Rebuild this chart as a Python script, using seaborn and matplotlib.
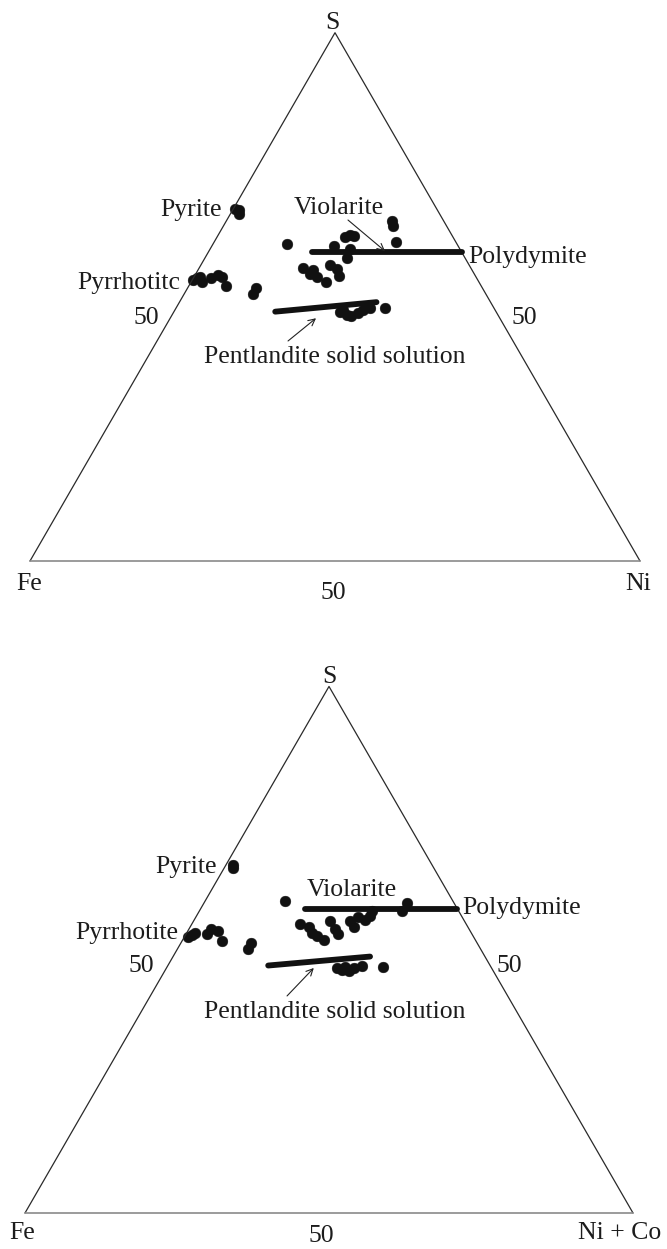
import numpy as np
import pandas as pd
import seaborn as sns
import matplotlib.pyplot as plt

sns.set_style("white")
plt.rcParams['font.family'] = ['Liberation Serif', 'DejaVu Serif']

# compositions in atomic %, stored as (S, Ni); Fe is the rest
# upper diagram: S - Fe - Ni
top_S = [66.6, 65.7, 66.5,
         53.5, 53.8, 53.2, 52.9, 53.5, 54.2, 53.7, 52.1, 51.6, 50.6,
         60.0, 59.7, 61.4, 61.7, 61.5, 59.0, 57.3, 64.4, 63.4, 60.3,
         55.4, 55.1, 54.4, 53.8, 52.9, 56.1, 55.2, 54.0,
         47.2, 46.6, 46.4, 46.9, 47.5, 47.9, 47.9, 47.5]
top_Ni = [0.3, 1.4, 1.0,
          0.6, 1.0, 0.2, 1.7, 3.0, 3.8, 4.6, 6.1, 11.3, 11.2,
          12.2, 20.0, 20.9, 21.6, 22.3, 23.0, 23.3, 27.2, 27.8, 29.8,
          17.0, 18.9, 18.7, 20.1, 22.0, 21.2, 22.7, 23.6,
          27.2, 28.6, 29.5, 30.4, 30.9, 31.8, 34.3, 27.6]

# lower diagram: S - Fe - (Ni + Co)
bot_S = [66.0, 65.5,
         52.8, 53.2, 52.5, 52.9, 53.9, 53.5, 51.7, 51.3, 50.1,
         59.2, 54.8, 54.3, 53.2, 52.7, 51.9, 55.4, 53.9, 52.9, 55.4,
         54.3, 56.2, 55.7, 56.5, 57.3, 58.9, 57.3,
         46.5, 46.8, 45.9, 46.5, 47.0, 46.8, 46.2]
bot_Ni = [1.2, 1.5,
          1.0, 1.3, 0.6, 3.5, 3.6, 5.0, 6.5, 11.6, 11.6,
          13.2, 17.8, 19.6, 20.6, 21.7, 23.3, 22.5, 24.1, 25.0, 25.8,
          26.9, 26.7, 28.1, 28.5, 28.4, 33.3, 33.3,
          28.0, 29.2, 30.3, 30.8, 31.9, 35.5, 29.0]

# tie lines (S, Ni at both ends)
top_viol_S, top_viol_Ni = [58.4, 58.4], [17.0, 41.6]
top_pent_S, top_pent_Ni = [47.2, 49.0], [16.6, 32.3]
bot_viol_S, bot_viol_Ni = [57.8, 57.8], [17.2, 42.1]
bot_pent_S, bot_pent_Ni = [47.0, 48.7], [16.5, 32.4]

# triangle corners: Fe, Ni, S
corner_S = [0, 0, 100]
corner_Ni = [0, 100, 0]


def tern(S, Ni):
    S = np.asarray(S, dtype=float) / 100
    Ni = np.asarray(Ni, dtype=float) / 100
    return Ni + S / 2, S * np.sqrt(3) / 2


fig = plt.figure(figsize=(6.67, 12.49), dpi=100)

panels = [
    dict(rect=[0, 629 / 1249, 1, 620 / 1249], xlim=(-30 / 610, 637 / 610), ylim=(-59 / 610, 561 / 610),
         S=top_S, Ni=top_Ni, vS=top_viol_S, vNi=top_viol_Ni, pS=top_pent_S, pNi=top_pent_Ni,
         right='Ni', right_ha='center', pyrr='Pyrrhotitc',
         txt=dict(S=(0.495, 0.872), Fe=(-0.001, -0.0475), Ni=(0.997, -0.0475), b50=(0.498, -0.062),
                  l50=(0.190, 0.3885), r50=(0.810, 0.3885), pyrite=(0.3148, 0.5656), pyrr=(0.246, 0.4466),
                  viol=(0.5066, 0.5684), poly=(0.718, 0.488), pent=(0.5, 0.3246)),
         varrow=((0.5213, 0.559), (0.582, 0.508)), parrow=((0.423, 0.3607), (0.4689, 0.398))),
    dict(rect=[0, 0, 1, 629 / 1249], xlim=(-25 / 608, 642 / 608), ylim=(-36 / 608, 593 / 608),
         S=bot_S, Ni=bot_Ni, vS=bot_viol_S, vNi=bot_viol_Ni, pS=bot_pent_S, pNi=bot_pent_Ni,
         right='Ni + Co', right_ha='right', pyrr='Pyrrhotite',
         txt=dict(S=(0.5, 0.872), Fe=(-0.005, -0.043), Ni=(1.046, -0.043), b50=(0.488, -0.047),
                  l50=(0.191, 0.396), r50=(0.796, 0.396), pyrite=(0.316, 0.559), pyrr=(0.2516, 0.450),
                  viol=(0.538, 0.521), poly=(0.720, 0.491), pent=(0.509, 0.3207)),
         varrow=None, parrow=((0.431, 0.357), (0.475, 0.403))),
]

fs = 18.5
tc = '#1c1c1c'

for p in panels:
    ax = fig.add_axes(p['rect'])
    ax.set_xlim(*p['xlim'])
    ax.set_ylim(*p['ylim'])
    ax.set_axis_off()

    cx, cy = tern(corner_S, corner_Ni)
    ax.plot([cx[0], cx[2], cx[1]], [cy[0], cy[2], cy[1]], color='#2a2a2a', lw=0.9)
    ax.plot([cx[0], cx[1]], [cy[0], cy[1]], color='#8a8a8a', lw=1.2)

    for lS, lNi in [(p['vS'], p['vNi']), (p['pS'], p['pNi'])]:
        lx, ly = tern(lS, lNi)
        sns.lineplot(x=lx, y=ly, ax=ax, color='#111111', lw=4.2, sort=False,
                     estimator=None, legend=False)

    px, py = tern(p['S'], p['Ni'])
    df = pd.DataFrame({'x': px, 'y': py})
    sns.scatterplot(data=df, x='x', y='y', ax=ax, color='#111111', s=60,
                    edgecolor='#111111', linewidth=0.3, legend=False)

    t = p['txt']
    ax.text(*t['S'], 'S', ha='center', va='baseline', fontsize=fs, color=tc)
    ax.text(*t['Fe'], 'Fe', ha='center', va='baseline', fontsize=fs, color=tc)
    ax.text(*t['Ni'], p['right'], ha=p['right_ha'], va='baseline', fontsize=fs, color=tc)
    ax.text(*t['b50'], '50', ha='center', va='baseline', fontsize=fs, color=tc)
    ax.text(*t['l50'], '50', ha='center', va='baseline', fontsize=fs, color=tc)
    ax.text(*t['r50'], '50', ha='center', va='baseline', fontsize=fs, color=tc)
    ax.text(*t['pyrite'], 'Pyrite', ha='right', va='baseline', fontsize=fs, color=tc)
    ax.text(*t['pyrr'], p['pyrr'], ha='right', va='baseline', fontsize=fs, color=tc)
    ax.text(*t['viol'], 'Violarite', ha='center', va='baseline', fontsize=fs, color=tc)
    ax.text(*t['poly'], 'Polydymite', ha='left', va='baseline', fontsize=fs, color=tc)
    ax.text(*t['pent'], 'Pentlandite solid solution', ha='center', va='baseline',
            fontsize=fs, color=tc)

    for arr in [p['varrow'], p['parrow']]:
        if arr is None:
            continue
        ax.annotate('', xy=arr[1], xytext=arr[0],
                    arrowprops=dict(arrowstyle='->', color='#222222', lw=0.8,
                                    shrinkA=0, shrinkB=0, mutation_scale=12))

fig.savefig('out.png', dpi=100, facecolor='white')
